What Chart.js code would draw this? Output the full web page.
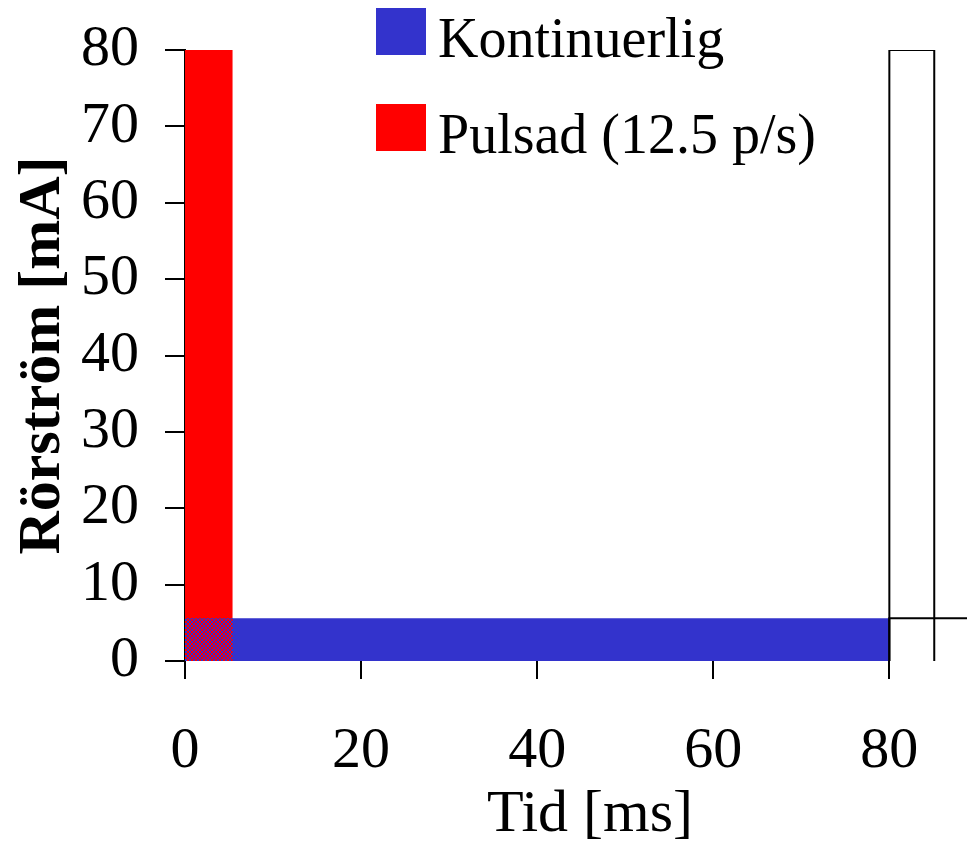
<!DOCTYPE html>
<html lang="sv">
<head>
<meta charset="utf-8">
<title>Rörström – kontinuerlig och pulsad</title>
<script src="https://cdn.jsdelivr.net/npm/chart.js@4/dist/chart.umd.min.js"></script>
<style>
  html, body { margin: 0; padding: 0; background: #ffffff; overflow: hidden; }
  #wrap { position: relative; width: 995px; height: 849px; }
</style>
</head>
<body>
<div id="wrap"><canvas id="chart"></canvas></div>
<script>
// Tid [ms] / Rörström [mA] – one 80 ms period (12.5 pulser/s)
const kontinuerligTid = [0, 0, 80, 80];
const kontinuerligStrom = [0, 5.6, 5.6, 0];

const pulsadTid = [0, 0, 5.4, 5.4];
const pulsadStrom = [0, 80, 80, 0];

// next period, drawn as outlines only
const nastaPulsTid = [80, 80, 85.1, 85.1];
const nastaPulsStrom = [0, 80, 80, 0];
const nastaKontTid = [80, 80, 160, 160];
const nastaKontStrom = [0, 5.6, 5.6, 0];

const serieNamn = ['Kontinuerlig', 'Pulsad (12.5 p/s)'];
const xTicks = [0, 20, 40, 60, 80];
const yTicks = [0, 10, 20, 30, 40, 50, 60, 70, 80];

const BLUE = '#3333cc';
const RED = '#ff0000';
const SERIF = "'Liberation Serif', 'Times New Roman', Times, serif";

const toPoints = (xs, ys) => xs.map((x, i) => ({ x, y: ys[i] }));

// overlap of the pulse and the continuous level
const overlapBredd = Math.min(pulsadTid[2], kontinuerligTid[2]);
const overlapNiva = Math.min(pulsadStrom[1], kontinuerligStrom[1]);
const overlapTid = [0, 0, overlapBredd, overlapBredd];
const overlapStrom = [0, overlapNiva, overlapNiva, 0];

// red/blue dither tile for the overlap
function ditherPattern() {
  const tile = [
    'RBBR',
    'BRRB',
    'BRRB',
    'RBBR'
  ];
  const c = document.createElement('canvas');
  c.width = 4; c.height = 4;
  const g = c.getContext('2d');
  tile.forEach((row, y) => {
    [...row].forEach((k, x) => {
      g.fillStyle = k === 'R' ? RED : BLUE;
      g.fillRect(x, y, 1, 1);
    });
  });
  return g.createPattern(c, 'repeat');
}

const insideLegend = {
  id: 'insideLegend',
  afterDraw(chart, args, opts) {
    const ctx = chart.ctx;
    ctx.save();
    ctx.font = opts.font;
    ctx.textBaseline = 'alphabetic';
    ctx.textAlign = 'left';
    opts.items.forEach((idx, i) => {
      const ds = chart.data.datasets[idx];
      const top = opts.y + i * opts.rowHeight;
      ctx.fillStyle = ds.backgroundColor;
      ctx.fillRect(opts.x, top, opts.boxWidth, opts.boxHeight);
      ctx.fillStyle = '#000000';
      ctx.fillText(ds.label, opts.textX, top + opts.baseline);
    });
    ctx.restore();
  }
};

new Chart(document.getElementById('chart'), {
  type: 'scatter',
  data: {
    datasets: [
      {
        label: serieNamn[0],
        data: toPoints(kontinuerligTid, kontinuerligStrom),
        backgroundColor: BLUE, borderColor: BLUE, borderWidth: 0,
        showLine: true, fill: 'shape', pointRadius: 0, order: 3
      },
      {
        label: serieNamn[1],
        data: toPoints(pulsadTid, pulsadStrom),
        backgroundColor: RED, borderColor: RED, borderWidth: 0,
        showLine: true, fill: 'shape', pointRadius: 0, order: 4
      },
      {
        label: 'overlap',
        data: toPoints(overlapTid, overlapStrom),
        backgroundColor: ditherPattern(), borderColor: BLUE, borderWidth: 0,
        showLine: true, fill: 'shape', pointRadius: 0, order: 2
      },
      {
        label: 'nästa puls',
        data: toPoints(nastaPulsTid, nastaPulsStrom),
        borderColor: '#000000', borderWidth: 2,
        showLine: true, fill: false, pointRadius: 0, order: 1
      },
      {
        label: 'nästa kontinuerlig',
        data: toPoints(nastaKontTid, nastaKontStrom),
        borderColor: '#000000', borderWidth: 2,
        showLine: true, fill: false, pointRadius: 0, order: 0
      }
    ]
  },
  options: {
    responsive: true,
    maintainAspectRatio: false,
    animation: false,
    events: [],
    layout: { padding: { top: 50, right: 0, bottom: 0, left: 0 } },
    plugins: {
      legend: { display: false },
      tooltip: { enabled: false },
      insideLegend: {
        items: [0, 1],
        x: 376, y: 8, rowHeight: 96,
        boxWidth: 50, boxHeight: 47,
        textX: 438, baseline: 49,
        font: '56px ' + SERIF
      }
    },
    scales: {
      x: {
        type: 'linear',
        min: 0, max: 92,
        afterBuildTicks: (scale) => { scale.ticks = xTicks.map(v => ({ value: v })); },
        ticks: {
          color: '#000000',
          autoSkip: false,
          maxRotation: 0,
          padding: 40,
          font: { family: SERIF, size: 58, lineHeight: 66 / 58 }
        },
        grid: {
          drawOnChartArea: false, drawTicks: true, tickLength: 18,
          color: '#000000', lineWidth: 2
        },
        border: { display: false },
        title: {
          display: true, text: 'Tid [ms]', color: '#000000',
          font: { family: SERIF, size: 60, lineHeight: 1 },
          padding: { top: -40, bottom: 4 }
        }
      },
      y: {
        type: 'linear',
        min: 0, max: 80,
        afterBuildTicks: (scale) => { scale.ticks = yTicks.map(v => ({ value: v })); },
        ticks: {
          color: '#000000',
          autoSkip: false,
          padding: 26,
          font: { family: SERIF, size: 58, lineHeight: 0.7 }
        },
        grid: {
          drawOnChartArea: false, drawTicks: true, tickLength: 20,
          color: '#000000', lineWidth: 2
        },
        border: { display: true, color: '#000000', width: 2 },
        title: {
          display: true, text: 'Rörström [mA]', color: '#000000',
          font: { family: SERIF, size: 60, weight: 'bold', lineHeight: 1 },
          padding: { top: 13, bottom: -18 }
        }
      }
    }
  },
  plugins: [insideLegend]
});
</script>
</body>
</html>
